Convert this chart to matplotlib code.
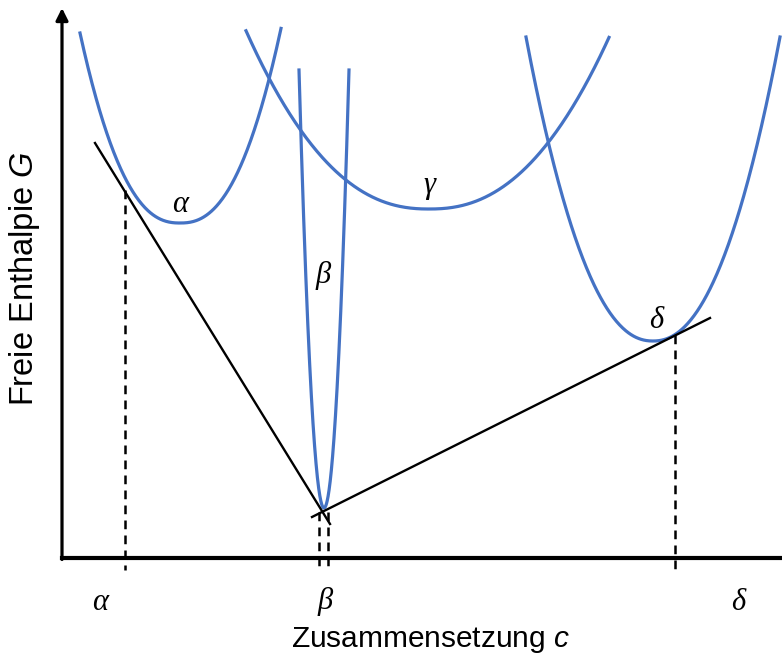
import numpy as np
import matplotlib
matplotlib.use("Agg")
import matplotlib.pyplot as plt

plt.rcParams['font.family'] = ['Liberation Sans', 'DejaVu Sans']
plt.rcParams['mathtext.fontset'] = 'custom'
plt.rcParams['mathtext.it'] = 'Liberation Sans:italic'
plt.rcParams['mathtext.rm'] = 'Liberation Sans'

# Phase curves G(c): minimum position, depth, rise over a half width, shape exponent
phase_names = ['α', 'β', 'γ', 'δ']
phase_c_min = [118, 262, 367, 591]
phase_g_min = [335, 50, 349, 217]
phase_rise = [190, 438, 176, 304]
phase_halfwidth = [100, 25, 182, 127]
phase_exponent = [2.4, 2.0, 2.3, 2.2]
phase_c_range = [(18, 219), (237, 287), (184, 547), (464, 718)]
label_c = [118, 261, 367, 594]
label_g = [353, 283, 373, 238]

# Common tangents (alpha-beta, beta-delta)
tangent_c = [(33, 268), (250, 648)]
tangent_g = [(415, 34), (41, 240)]

# Dashed drop lines to the composition axis
drop_c = [63, 257, 266, 613]
drop_g = [368, 46, 46, 223]

# Labels under the axis
axis_label_c = [38, 263, 676]
axis_label_names = ['α', 'β', 'δ']

blue = '#4472C4'

fig = plt.figure(figsize=(7.82, 6.62), dpi=100)
ax = fig.add_axes([62 / 782, 104 / 662, 720 / 782, 548 / 662])
ax.set_xlim(0, 720)
ax.set_ylim(0, 548)

for i in range(len(phase_names)):
    c = np.linspace(phase_c_range[i][0], phase_c_range[i][1], 400)
    g = phase_g_min[i] + phase_rise[i] * (np.abs(c - phase_c_min[i]) / phase_halfwidth[i]) ** phase_exponent[i]
    ax.plot(c, g, color=blue, lw=2.3, clip_on=False)
    ax.text(label_c[i], label_g[i], phase_names[i], fontsize=22, family='Liberation Serif',
            style='italic', ha='center', va='center')

for c, g in zip(tangent_c, tangent_g):
    ax.plot(c, g, color='black', lw=1.7, clip_on=False)

for c, g in zip(drop_c, drop_g):
    ax.plot([c, c], [g, -12], color='black', lw=1.8, ls=(0, (3.5, 2.5)), clip_on=False)

for c, name in zip(axis_label_c, axis_label_names):
    ax.text(c, -44, name, fontsize=22, family='Liberation Serif', style='italic',
            ha='center', va='center')

ax.spines[['top', 'right', 'left']].set_visible(False)
ax.spines['bottom'].set_linewidth(3)
ax.set_xticks([])
ax.set_yticks([])
ax.annotate('', xy=(0, 550), xytext=(0, -1.5), annotation_clip=False,
            arrowprops=dict(arrowstyle='-|>', lw=2.3, color='black', mutation_scale=18,
                            shrinkA=0, shrinkB=0))

fig.text(430 / 782, 1 - 640 / 662, r'Zusammensetzung $\mathit{c}$', fontsize=21.5,
         ha='center', va='center')
fig.text(25 / 782, 1 - 279 / 662, r'Freie Enthalpie $\mathit{G}$', fontsize=23.5,
         ha='center', va='center', rotation=90)

fig.savefig('out.png', dpi=100)
